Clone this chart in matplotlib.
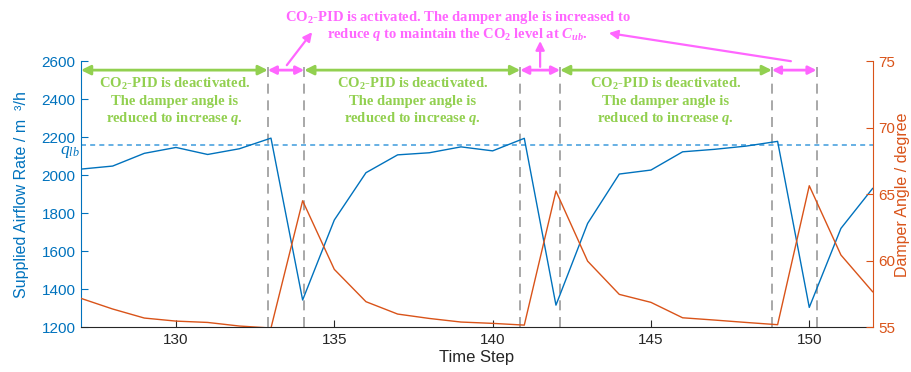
import matplotlib
matplotlib.use("Agg")
import matplotlib.pyplot as plt

plt.rcParams['font.family'] = ['Liberation Sans', 'DejaVu Sans']
plt.rcParams['mathtext.fontset'] = 'custom'
plt.rcParams['mathtext.rm'] = 'Liberation Serif'
plt.rcParams['mathtext.it'] = 'Liberation Serif:italic'
plt.rcParams['mathtext.bf'] = 'Liberation Serif:bold'
plt.rcParams['mathtext.bfit'] = 'Liberation Serif:bold:italic'

steps = list(range(127, 153))
airflow = [2033, 2049, 2116, 2147, 2110, 2140, 2196, 1344, 1765, 2014,
           2108, 2119, 2150, 2129, 2195, 1317, 1747, 2007, 2028, 2124,
           2137, 2154, 2179, 1305, 1721, 1931]
damper = [57.18, 56.38, 55.70, 55.47, 55.37, 55.10, 54.95, 64.52, 59.36, 56.93,
          56.00, 55.67, 55.40, 55.30, 55.17, 65.25, 59.98, 57.48, 56.88, 55.72,
          55.55, 55.37, 55.20, 65.65, 60.44, 57.68]
q_lb = 2160
switch_steps = [132.9, 134.05, 140.87, 142.13, 148.82, 150.23]
left_ticks = [1200, 1400, 1600, 1800, 2000, 2200, 2400, 2600]
right_ticks = [55, 60, 65, 70, 75]
x_ticks = [130, 135, 140, 145, 150]

BLUE = '#0072BD'
ORANGE = '#D95319'
GREEN = '#92D050'
PINK = '#FF66FF'

fig = plt.figure(figsize=(9.12, 3.72), dpi=100)
ax = fig.add_axes([0.0888, 0.120, 0.868, 0.715])
ax2 = ax.twinx()

ax.plot(steps, airflow, color=BLUE, lw=1.0, zorder=3)
ax2.plot(steps, damper, color=ORANGE, lw=1.0)

ax.axhline(q_lb, color='#4DA3DF', lw=1.2, ls=(0, (3, 2.5)), zorder=2)
for s in switch_steps:
    ax.axvline(s, color='#9A9A9A', lw=1.2, ls=(0, (6, 4)), zorder=1)

ax.set_xlim(127, 152)
ax.set_ylim(1200, 2600)
ax2.set_ylim(55, 75)
ax.set_xticks(x_ticks)
ax.set_yticks(left_ticks)
ax2.set_yticks(right_ticks)

for a in (ax, ax2):
    a.spines['top'].set_visible(False)
ax.spines['right'].set_visible(False)
ax.spines['left'].set_color(BLUE)
ax.spines['bottom'].set_color('#262626')
ax2.spines['right'].set_color(ORANGE)
ax2.spines['left'].set_visible(False)
ax2.spines['bottom'].set_visible(False)

ax.tick_params(axis='y', direction='in', colors=BLUE, labelsize=11, length=5, pad=4)
ax.tick_params(axis='x', direction='in', colors='#262626', labelsize=11, length=5, pad=4)
ax2.tick_params(axis='y', direction='in', colors=ORANGE, labelsize=11, length=5, pad=4)

ax.set_xlabel('Time Step', fontsize=12, color='#262626', labelpad=2)
ax.set_ylabel('Supplied Airflow Rate / m  \u00b3/h', fontsize=11.5, color=BLUE)
ax2.set_ylabel('Damper Angle / degree', fontsize=11.5, color=ORANGE)
ax.yaxis.set_label_coords(-0.066, 0.5)
ax2.yaxis.set_label_coords(1.028, 0.5)

ax.text(126.95, 2163, '$q_{lb}$', color=BLUE, fontsize=12.5, ha='right', va='top', clip_on=False)

# phase arrows
y_arr = 2554
green_spans = [(127, switch_steps[0]), (switch_steps[1], switch_steps[2]), (switch_steps[3], switch_steps[4])]
pink_spans = [(switch_steps[0], switch_steps[1]), (switch_steps[2], switch_steps[3]), (switch_steps[4], switch_steps[5])]
for a0, a1 in green_spans:
    ax.annotate('', xy=(a1, y_arr), xytext=(a0, y_arr),
                arrowprops=dict(arrowstyle='<|-|>', color=GREEN, lw=2, mutation_scale=14, shrinkA=0, shrinkB=0))
for a0, a1 in pink_spans:
    ax.annotate('', xy=(a1, y_arr), xytext=(a0, y_arr),
                arrowprops=dict(arrowstyle='<|-|>', color=PINK, lw=2, mutation_scale=12, shrinkA=0, shrinkB=0))

green_lines = ['CO$_{\\mathbf{2}}$-PID is deactivated.', 'The damper angle is',
               'reduced to increase $\\mathbfit{q}$.']
for a0, a1 in green_spans:
    xm = (a0 + a1) / 2
    for i, t in enumerate(green_lines):
        ax.text(xm, 2482 - i * 92, t, color=GREEN, fontsize=10.5, fontweight='bold',
                family='Liberation Serif', ha='center', va='center')

ax.text(138.9, 2832, 'CO$_{\\mathbf{2}}$-PID is activated. The damper angle is increased to',
        color=PINK, fontsize=10.5, fontweight='bold', family='Liberation Serif',
        ha='center', va='center', clip_on=False)
ax.text(138.9, 2742, 'reduce $\\mathbfit{q}$ to maintain the CO$_{\\mathbf{2}}$ level at $\\mathbfit{C}_{\\mathbfit{ub}}$.',
        color=PINK, fontsize=10.5, fontweight='bold', family='Liberation Serif',
        ha='center', va='center', clip_on=False)

pink_pointers = [((133.5, 2580), (134.3, 2754)), ((141.5, 2571), (141.5, 2707)), ((149.42, 2601), (143.67, 2749))]
for (x0, y0), (x1, y1) in pink_pointers:
    ax.annotate('', xy=(x1, y1), xytext=(x0, y0), annotation_clip=False,
                arrowprops=dict(arrowstyle='-|>', color=PINK, lw=1.6, mutation_scale=13, shrinkA=0, shrinkB=0))

fig.savefig('out.png', dpi=100)
